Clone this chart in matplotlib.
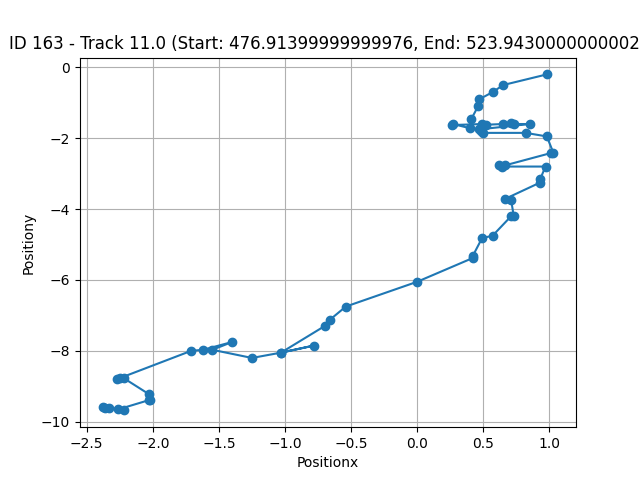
import matplotlib
matplotlib.use('Agg')
import matplotlib.pyplot as plt

pos_x = [0.98, 0.65, 0.57, 0.47, 0.46, 0.41, 0.40, 0.27, 0.26, 0.49, 0.52, 0.65, 0.71, 0.73, 0.85,
         0.47, 0.48, 0.50, 0.82, 0.98, 1.03, 1.01, 0.66, 0.62, 0.64, 0.97, 0.93, 0.93,
         0.66, 0.71, 0.73, 0.71, 0.57, 0.49, 0.42, 0.42, 0.0, -0.54, -0.66, -0.70,
         -1.03, -0.78, -1.03, -1.25, -1.55, -1.40, -1.62, -1.71, -2.25, -2.27, -2.22,
         -2.03, -2.03, -2.02, -2.26, -2.22, -2.33, -2.36, -2.38]
pos_y = [-0.2, -0.5, -0.7, -0.9, -1.1, -1.45, -1.72, -1.6, -1.63, -1.6, -1.62, -1.6, -1.57, -1.6, -1.6,
         -1.75, -1.8, -1.85, -1.85, -1.95, -2.42, -2.42, -2.77, -2.77, -2.8, -2.8, -3.15, -3.25,
         -3.72, -3.75, -4.2, -4.2, -4.75, -4.82, -5.32, -5.38, -6.05, -6.75, -7.12, -7.3,
         -8.05, -7.85, -8.05, -8.2, -7.97, -7.75, -7.97, -8.0, -8.77, -8.8, -8.77,
         -9.22, -9.4, -9.38, -9.65, -9.68, -9.6, -9.6, -9.57]

title = "ID 163 - Track 11.0 (Start: 476.91399999999976, End: 523.9430000000002)"

fig, ax = plt.subplots(figsize=(6.4, 4.8), dpi=100)
ax.plot(pos_x, pos_y, marker='o')
ax.set_title(title)
ax.set_xlabel('Positionx')
ax.set_ylabel('Positiony')
ax.grid(True)
fig.savefig('out.png')
